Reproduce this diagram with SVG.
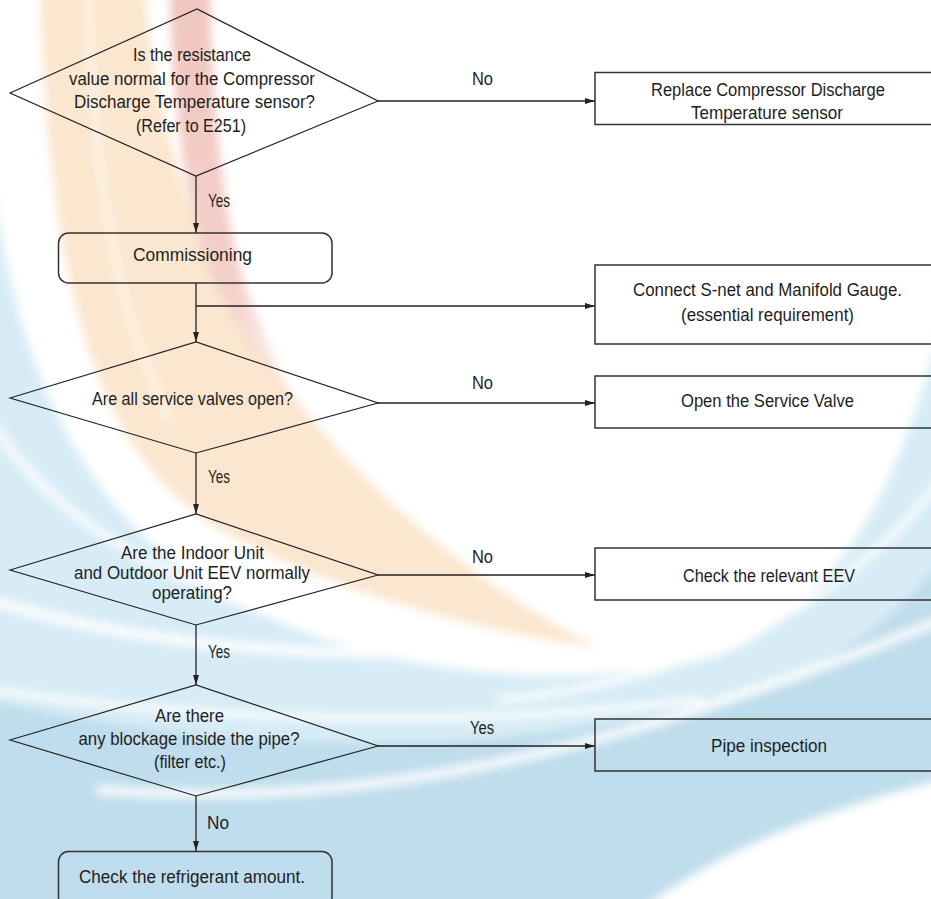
<svg xmlns="http://www.w3.org/2000/svg" width="931" height="899" viewBox="0 0 931 899">
  <defs>
    <style>
      .t{font-family:"Liberation Sans",Arial,sans-serif;font-size:17.5px;fill:#1e1e1e;text-anchor:middle}
      .ts{font-family:"Liberation Sans",Arial,sans-serif;font-size:17.5px;fill:#1e1e1e;text-anchor:start}
      .box{fill:none;stroke:#333;stroke-width:1.5}
      .dia{fill:none;stroke:#222;stroke-width:1.2}
      .conn{fill:none;stroke:#222;stroke-width:1.3}
    </style>
    <marker id="arrow" viewBox="0 0 10 6" refX="10" refY="3" markerWidth="10" markerHeight="6" markerUnits="userSpaceOnUse" orient="auto">
      <path d="M0,0 L10,3 L0,6 Z" fill="#222"/>
    </marker>
    <filter id="soft" filterUnits="userSpaceOnUse" x="-60" y="-60" width="1051" height="1019">
      <feGaussianBlur stdDeviation="5"/>
    </filter>
    <linearGradient id="redFade" x1="0" y1="0" x2="0" y2="1">
      <stop offset="0" stop-color="#f1c6c0"/>
      <stop offset="0.7" stop-color="#f4d0ca"/>
      <stop offset="1" stop-color="#f6dcd8" stop-opacity="0"/>
    </linearGradient>
  </defs>

  <rect width="931" height="899" fill="#ffffff"/>

  <!-- background swirl -->
  <g id="backdrop" filter="url(#soft)">
    <path d="M-10 160 C10 330 60 470 170 560 C300 660 520 700 700 660 C820 630 900 500 941 320 L941 780 C820 810 720 850 640 910 L-10 910 Z" fill="#d7ecf6"/>
    <path d="M-10 700 C250 760 550 760 780 680 C860 650 910 600 941 560 L941 780 C820 810 720 850 640 910 L-10 910 Z" fill="#bfddec"/>
    <g fill="none" stroke="#ffffff" stroke-linecap="round">
      <path d="M-10 420 C40 500 120 560 260 610" stroke-width="7"/>
      <path d="M-10 600 C150 650 350 660 520 650" stroke-width="9"/>
      <path d="M-10 690 C200 720 450 730 700 700" stroke-width="6"/>
      <path d="M100 790 C350 810 600 760 941 620" stroke-width="8"/>
      <path d="M500 700 C700 680 850 600 941 480" stroke-width="6"/>
    </g>
    <path d="M40 -10 L145 -10 C160 180 230 330 330 440 C420 540 520 610 600 648 C470 630 330 590 220 530 C110 460 50 330 40 -10 Z" fill="#fbe6cf"/>
    <path d="M88 -10 C92 150 110 300 170 420" fill="none" stroke="#ffffff" stroke-width="5" opacity="0.7"/>
    <path d="M170 -10 L210 -10 C212 120 225 230 250 300 C270 350 290 390 305 420 C270 380 230 320 205 260 C185 190 172 100 170 -10 Z" fill="url(#redFade)"/>
  </g>

  <!-- connectors -->
  <g id="connectors" class="conn">
    <line x1="378" y1="101" x2="595" y2="101" marker-end="url(#arrow)"/>
    <line x1="196" y1="176" x2="196" y2="233" marker-end="url(#arrow)"/>
    <line x1="196" y1="283" x2="196" y2="342" marker-end="url(#arrow)"/>
    <line x1="196" y1="306" x2="595" y2="306" marker-end="url(#arrow)"/>
    <line x1="378" y1="403" x2="595" y2="403" marker-end="url(#arrow)"/>
    <line x1="196" y1="453" x2="196" y2="514" marker-end="url(#arrow)"/>
    <line x1="378" y1="575" x2="595" y2="575" marker-end="url(#arrow)"/>
    <line x1="196" y1="625" x2="196" y2="685" marker-end="url(#arrow)"/>
    <line x1="378" y1="746" x2="595" y2="746" marker-end="url(#arrow)"/>
    <line x1="196" y1="796" x2="196" y2="851" marker-end="url(#arrow)"/>
  </g>

  <!-- connector labels -->
  <g id="labels">
    <text class="ts" x="472" y="84.5" textLength="21" lengthAdjust="spacingAndGlyphs">No</text>
    <text class="ts" x="208" y="207" textLength="22" lengthAdjust="spacingAndGlyphs">Yes</text>
    <text class="ts" x="472" y="389" textLength="21" lengthAdjust="spacingAndGlyphs">No</text>
    <text class="ts" x="208" y="483" textLength="22" lengthAdjust="spacingAndGlyphs">Yes</text>
    <text class="ts" x="472" y="563" textLength="21" lengthAdjust="spacingAndGlyphs">No</text>
    <text class="ts" x="208" y="657.5" textLength="22" lengthAdjust="spacingAndGlyphs">Yes</text>
    <text class="ts" x="470" y="734" textLength="24" lengthAdjust="spacingAndGlyphs">Yes</text>
    <text class="ts" x="207" y="829" textLength="22" lengthAdjust="spacingAndGlyphs">No</text>
  </g>

  <g id="q-sensor">
    <polygon class="dia" points="10,93 197,9 378,101 196,176"/>
    <text class="t" x="192" y="61" textLength="118" lengthAdjust="spacingAndGlyphs">Is the resistance</text>
    <text class="t" x="192" y="85" textLength="246" lengthAdjust="spacingAndGlyphs">value normal for the Compressor</text>
    <text class="t" x="194.5" y="107.5" textLength="241" lengthAdjust="spacingAndGlyphs">Discharge Temperature sensor?</text>
    <text class="t" x="191" y="132" textLength="110" lengthAdjust="spacingAndGlyphs">(Refer to E251)</text>
  </g>

  <g id="replace-sensor">
    <rect class="box" x="595" y="72.5" width="345" height="52"/>
    <text class="t" x="768" y="95.5" textLength="234" lengthAdjust="spacingAndGlyphs">Replace Compressor Discharge</text>
    <text class="t" x="767" y="119" textLength="152" lengthAdjust="spacingAndGlyphs">Temperature sensor</text>
  </g>

  <g id="commissioning">
    <rect class="box" x="58.5" y="233" width="273.5" height="50" rx="10" ry="10"/>
    <text class="t" x="192.5" y="261" textLength="119" lengthAdjust="spacingAndGlyphs">Commissioning</text>
  </g>

  <g id="connect-gauge">
    <rect class="box" x="595" y="265" width="345" height="79"/>
    <text class="t" x="767.5" y="295.5" textLength="269" lengthAdjust="spacingAndGlyphs">Connect S-net and Manifold Gauge.</text>
    <text class="t" x="767.5" y="321" textLength="173" lengthAdjust="spacingAndGlyphs">(essential requirement)</text>
  </g>

  <g id="q-valves">
    <polygon class="dia" points="10,398 196,342 378,403 196,453"/>
    <text class="t" x="192.5" y="405" textLength="201" lengthAdjust="spacingAndGlyphs">Are all service valves open?</text>
  </g>

  <g id="open-valve">
    <rect class="box" x="595" y="376" width="345" height="52"/>
    <text class="t" x="767.5" y="407" textLength="173" lengthAdjust="spacingAndGlyphs">Open the Service Valve</text>
  </g>

  <g id="q-eev">
    <polygon class="dia" points="10,570 196,514 378,575 196,625"/>
    <text class="t" x="192.5" y="558.5" textLength="143" lengthAdjust="spacingAndGlyphs">Are the Indoor Unit</text>
    <text class="t" x="192" y="579" textLength="236" lengthAdjust="spacingAndGlyphs">and Outdoor Unit EEV normally</text>
    <text class="t" x="192" y="599" textLength="80" lengthAdjust="spacingAndGlyphs">operating?</text>
  </g>

  <g id="check-eev">
    <rect class="box" x="595" y="548" width="345" height="52"/>
    <text class="t" x="769" y="581.5" textLength="172" lengthAdjust="spacingAndGlyphs">Check the relevant EEV</text>
  </g>

  <g id="q-blockage">
    <polygon class="dia" points="10,740 196,685 378,746 196,796"/>
    <text class="t" x="189.5" y="722" textLength="69" lengthAdjust="spacingAndGlyphs">Are there</text>
    <text class="t" x="189" y="745" textLength="221" lengthAdjust="spacingAndGlyphs">any blockage inside the pipe?</text>
    <text class="t" x="190" y="768" textLength="72" lengthAdjust="spacingAndGlyphs">(filter etc.)</text>
  </g>

  <g id="pipe-inspection">
    <rect class="box" x="595" y="719" width="345" height="52"/>
    <text class="t" x="769" y="751.5" textLength="116" lengthAdjust="spacingAndGlyphs">Pipe inspection</text>
  </g>

  <g id="refrigerant">
    <rect class="box" x="58.5" y="851.5" width="273.5" height="56" rx="10" ry="10"/>
    <text class="t" x="192" y="883" textLength="226" lengthAdjust="spacingAndGlyphs">Check the refrigerant amount.</text>
  </g>
</svg>
